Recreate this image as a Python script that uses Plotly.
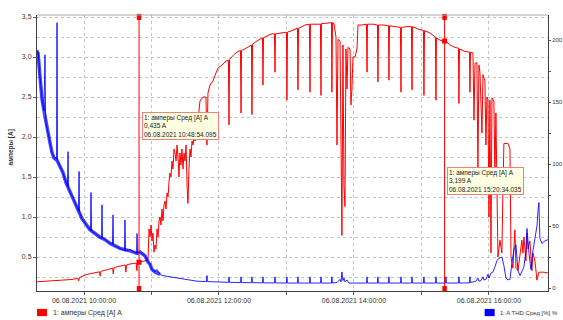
import pandas as pd
import plotly.graph_objects as go

# ---------------- data (time = minutes after 06.08.2021 09:00:00) ----------------
red_minutes = [
    18.2, 25, 30, 35, 40, 45, 50, 54.5, 55.2, 55.9, 60, 65, 70, 73.8, 74.4, 75, 80, 85.5, 86, 86.6,
    90, 95, 96.6, 97.2, 97.8, 100, 105, 106.4, 107, 107.6, 108.9, 112, 116.9,
    117.8, 118.7, 119.6, 120.4, 121.3, 122.2, 123.1, 124.0, 124.9, 125.8, 126.7, 127.6, 128.4, 129.3,
    130.2, 131.1, 132.0, 132.9, 133.8, 134.7, 135.6, 136.4, 137.3, 138.2, 139.1, 140.0, 140.9, 141.8,
    142.7, 143.6, 144.4, 145.3, 146.2, 147.1, 148.0, 148.9, 149.8, 150.7, 151.6, 152.4, 153.3, 154.2,
    155.1, 156.0, 156.9, 157.8, 158.7,
    159.6, 161.3, 163.1, 165.8, 168.4, 169.3, 170.2, 172.0, 174.7, 177.3, 179.1, 182.7, 186.2, 188.4,
    188.9, 189.4, 193.3, 196.9, 199.1, 199.6, 200.0, 204.0, 207.6, 208.9, 209.3, 209.8, 213.8, 217.3,
    218.7, 219.1, 219.6, 223.6, 227.1, 229.3, 229.8, 230.2, 234.2,
    238.7, 240.0, 240.4, 240.9, 244.9, 247.6, 249.8, 250.2, 250.7, 253.8, 256.4, 260.4, 260.9, 261.3,
    265.3, 270.2, 270.7, 271.1, 274.2, 280.0, 280.4, 280.9, 282.2,
    283.1, 284.0, 284.9, 285.8, 287.6, 288.5, 289.3, 290.2, 291.1, 292.0, 292.9, 293.8, 294.7, 296.5,
    297.3, 298.2, 299.1, 300.9, 302.7, 303.6,
    307.1, 311.1, 311.6, 312.0, 316.9, 320.9, 321.3, 321.8, 326.7, 330.7, 331.1, 331.6, 337.3, 341.3,
    341.8, 342.2, 347.1, 351.1, 351.6, 352.0, 356.9, 361.8, 362.2, 362.7, 367.6, 370.2, 372.4, 372.9,
    373.3, 376.5, 381.8, 385.3, 389.8, 392.9, 393.3, 393.8, 398.7, 402.7, 403.1, 403.6, 405.8,
    406.7, 407.6, 409.3, 410.2, 411.1, 412.0, 413.8, 414.7, 416.4, 417.3, 418.2, 419.1, 420.0, 420.9,
    421.8, 422.7, 424.4, 425.3, 426.2, 428.0, 429.8, 431.5, 432.4, 433.3, 436.9, 438.7, 439.6, 441.3,
    443.1, 444.0, 445.8, 447.6, 449.3, 450.2, 451.1, 452.9, 453.8, 454.7, 456.4, 458.2, 459.1, 460.9,
    462.7, 464.4, 468.9, 472.4,
]
red_amps = [
    0.19, 0.195, 0.20, 0.205, 0.21, 0.215, 0.22, 0.235, 0.20, 0.24, 0.27, 0.29, 0.30, 0.315, 0.26, 0.32, 0.34, 0.36, 0.29, 0.365,
    0.38, 0.39, 0.40, 0.31, 0.40, 0.41, 0.42, 0.425, 0.33, 0.43, 0.435, 0.445, 0.46,
    0.85, 0.75, 0.9, 0.7, 0.8, 0.56, 0.65, 0.6, 0.85, 0.75, 0.95, 1.0, 0.9, 1.1,
    0.95, 1.15, 1.2, 1.1, 1.3, 1.25, 1.45, 1.55, 1.5, 1.7, 1.6, 1.85, 1.8, 1.7,
    1.9, 1.75, 1.5, 1.8, 1.65, 1.85, 1.6, 1.8, 1.7, 1.9, 1.4, 1.17, 1.6, 1.85,
    1.75, 1.95, 1.9, 2.0, 1.95,
    2.0, 2.2, 2.45, 2.5, 2.5, 1.9, 2.55, 2.65, 2.7, 2.8, 2.86, 2.9, 2.95, 2.96,
    2.15, 2.97, 3.03, 3.07, 3.08, 2.3, 3.08, 3.11, 3.14, 3.15, 2.28, 3.16, 3.2, 3.23,
    3.24, 2.65, 3.24, 3.27, 3.29, 3.29, 2.81, 3.29, 3.3,
    3.31, 3.31, 2.46, 3.31, 3.33, 3.35, 3.36, 2.59, 3.36, 3.38, 3.40, 3.41, 2.56, 3.41,
    3.41, 3.41, 2.52, 3.42, 3.42, 3.43, 2.56, 3.43, 3.42,
    3.3, 3.25, 1.9, 3.22, 3.2, 2.2, 0.77, 3.15, 1.4, 1.13, 3.1, 2.6, 3.12, 3.1,
    2.4, 2.6, 3.0, 3.0, 3.1, 3.4,
    3.40, 3.41, 2.81, 3.41, 3.41, 3.40, 2.69, 3.40, 3.40, 3.39, 2.71, 3.39, 3.38, 3.37,
    2.56, 3.37, 3.38, 3.38, 2.59, 3.38, 3.35, 3.33, 2.52, 3.33, 3.30, 3.27, 3.25, 2.46,
    3.24, 3.21, 3.20, 3.15, 3.12, 3.11, 2.42, 3.10, 3.07, 3.06, 2.56, 3.06, 3.05,
    2.21, 2.92, 2.93, 1.6, 2.9, 2.81, 2.05, 2.78, 2.7, 1.9, 2.5, 2.46, 1.0, 2.46,
    0.55, 2.49, 2.45, 1.5, 2.3, 0.5, 0.71, 0.55, 1.3, 1.92, 1.92, 1.85, 0.5, 0.36,
    0.84, 0.36, 0.33, 0.5, 0.71, 0.55, 0.75, 0.45, 0.8, 0.6, 0.7, 0.33, 0.55, 0.45,
    0.21, 0.31, 0.31, 0.3,
]

blue_band_minutes = [
    18.2, 19.1, 20.9, 22.7, 24.4, 26.2, 28.0, 29.8, 31.6, 33.3, 36.0, 38.7, 41.3, 44.0, 47.6, 51.1,
    54.7, 58.2, 61.8, 65.3, 69.8, 74.2, 78.7, 83.1, 87.6, 92.0, 100.9, 107.1, 109.8, 114.2, 116.9,
    118.7, 120.4, 123.1, 127.6,
]
blue_band_thd = [
    188, 190, 170, 152, 143, 133, 125, 117, 109, 105, 103, 98, 93, 85, 77, 71,
    63, 56, 51, 47, 44, 41, 39, 36, 34, 32, 30, 28, 29, 26, 21,
    19, 15, 13, 11,
]

blue_minutes = [
    18.2, 19.1, 20.9, 22.7, 24.4, 25.3, 25.8, 26.2, 28.0, 29.8, 31.6, 33.3, 35.6, 36.0, 36.4, 38.7,
    41.3, 44.0, 45.3, 45.8, 46.2, 47.6, 51.1, 54.7, 55.1, 55.6, 56.0, 58.2, 61.8, 65.3, 65.8, 66.2,
    66.7, 69.8, 74.2, 75.6, 76.0, 76.4, 78.7, 83.1, 85.3, 85.8, 86.2, 87.6, 92.0, 96.0, 96.4, 96.9,
    100.9, 106.7, 107.1, 107.6, 109.8, 114.2, 116.9, 118.7, 120.4, 123.1, 124.9, 127.6, 130.2,
    136.4, 145.3, 154.2, 160.4, 168.9, 169.3, 169.7, 174.7,
    188.5, 188.9, 189.3, 199.2, 199.6, 200.0, 208.9, 209.3, 209.7, 218.7, 219.1, 219.5,
    229.4, 229.8, 230.2, 240.0, 240.4, 240.8, 249.8, 250.2, 250.6, 260.5, 260.9, 261.3,
    270.3, 270.7, 271.1, 280.0, 280.4, 280.8,
    285.0, 287.6, 288.5, 289.3, 290.2, 291.1, 292.0, 293.8, 295.6,
    311.2, 311.6, 312.0, 320.9, 321.3, 321.7, 330.7, 331.1, 331.5, 341.4, 341.8, 342.2,
    351.2, 351.6, 352.0, 361.8, 362.2, 362.6, 372.5, 372.9, 373.3, 381.4, 381.8, 382.2,
    392.9, 393.3, 393.7, 402.7, 403.1, 403.5,
    406.7, 408.4, 410.2, 411.1, 412.9, 414.7, 415.6, 417.3, 419.1, 420.0, 421.8, 423.6, 425.3,
    427.1, 428.9, 431.5, 433.3, 435.1, 436.9, 438.7, 440.4, 442.2, 444.0, 445.8, 447.6, 449.3,
    451.1, 452.9, 453.8, 455.6, 457.3, 459.1, 460.9, 462.7, 463.6, 464.4, 465.3, 467.1, 469.8, 472.4,
]
blue_thd = [
    188, 192, 170, 152, 143, 188, 140, 133, 125, 117, 109, 105, 104, 214, 103, 98,
    93, 85, 82, 110, 81, 77, 71, 63, 62, 94, 61, 56, 51, 47, 46, 77,
    46, 44, 41, 40, 67, 40, 39, 36, 35, 59, 35, 34, 32, 30, 55, 30,
    31, 28, 44, 28, 29, 26, 21, 19, 15, 13, 15, 11, 10,
    9, 7.5, 6, 5.5, 5.2, 10, 5.2, 5,
    4.6, 9, 4.6, 4.4, 9, 4.4, 4.3, 9, 4.3, 4.2, 9, 4.2,
    4.1, 9, 4.1, 4, 9, 4, 4, 9, 4, 4, 9, 4,
    4, 9, 4, 4, 9, 4,
    4.5, 7, 5, 13, 6, 8, 5, 6.5, 4,
    4, 9, 4, 4, 9, 4, 4, 9, 4, 4, 9, 4,
    4, 9, 4, 4, 9, 4, 4, 9, 4, 4, 9, 4,
    4, 9, 4, 4.2, 9, 4.5,
    5, 5.5, 8, 5.5, 6, 9, 6.5, 7, 11, 8, 12, 13, 17,
    22, 24, 25, 18, 8, 6.5, 7, 20, 31, 35, 14, 10, 14,
    17, 30, 48, 28, 15, 30, 40, 50, 62, 69, 40, 36, 38, 39,
]

cursor_times = ["2021-08-06 10:48:54.095", "2021-08-06 15:20:34.035"]
cursor_values = [0.435, 3.199]
cursor_series = "1: амперы Сред [A] A"

x_tick_hours = [10, 11, 12, 13, 14, 15, 16]
x_tick_labels = ["06.08.2021 10:00:00", "", "06.08.2021 12:00:00", "",
                 "06.08.2021 14:00:00", "", "06.08.2021 16:00:00"]
y_left_ticks = [0.5, 1.0, 1.5, 2.0, 2.5, 3.0, 3.5]
y_left_labels = ["0,5", "1,0", "1,5", "2,0", "2,5", "3,0", "3,5"]
y_right_ticks = [0, 50, 100, 150, 200]

legend_red = "1: амперы Сред [A] A"
legend_blue = "1: A THD Сред [%] %"
y_title = "амперы [A]"

# ---------------- figure ----------------
BASE = pd.Timestamp("2021-08-06 09:00:00")


def to_dt(mins):
    return BASE + pd.to_timedelta(mins, unit="m")


FONT = "Liberation Sans, Arial, sans-serif"
RED = "#ff0000"
BLUE = "#0000ff"

fig = go.Figure()
fig.add_trace(go.Scatter(x=to_dt(red_minutes), y=red_amps, mode="lines",
                         line=dict(color=RED, width=1), yaxis="y", name=legend_red,
                         showlegend=False))
fig.add_trace(go.Scatter(x=to_dt(blue_band_minutes), y=blue_band_thd, mode="lines",
                         line=dict(color="rgba(0,0,255,0.72)", width=3.5), yaxis="y2",
                         showlegend=False, hoverinfo="skip"))
fig.add_trace(go.Scatter(x=to_dt(blue_minutes), y=blue_thd, mode="lines",
                         line=dict(color="rgba(0,0,255,0.85)", width=1), yaxis="y2",
                         name=legend_blue, showlegend=False))
cursor_dt = pd.to_datetime(cursor_times)
fig.add_trace(go.Scatter(x=cursor_dt, y=cursor_values, mode="markers",
                         marker=dict(color=RED, size=5, symbol="square"), yaxis="y",
                         showlegend=False))

shapes = []
annotations = []
for t, v in zip(cursor_dt, cursor_values):
    shapes.append(dict(type="line", xref="x", yref="paper", x0=t, x1=t, y0=0, y1=1,
                       line=dict(color=RED, width=1)))
    half = pd.Timedelta(minutes=2.0)
    shapes.append(dict(type="rect", xref="x", yref="paper", x0=t - half, x1=t + half,
                       y0=0.982, y1=1.004, fillcolor=RED, line=dict(width=0)))
    shapes.append(dict(type="rect", xref="x", yref="paper", x0=t - half, x1=t + half,
                       y0=0.0, y1=0.018, fillcolor=RED, line=dict(width=0)))

box_tops = [0.648, 0.449]
for t, v, ytop in zip(cursor_dt, cursor_values, box_tops):
    txt = (cursor_series + "<br>" + f"{v:.3f}".replace(".", ",") + " A<br>"
           + t.strftime("%d.%m.%Y %H:%M:%S.") + f"{t.microsecond // 1000:03d}")
    annotations.append(dict(x=t + pd.Timedelta(minutes=2.4), y=ytop, xref="x", yref="paper",
                            xanchor="left", yanchor="top", showarrow=False, align="left",
                            text=txt, font=dict(family=FONT, size=6.5, color="#222"),
                            bgcolor="#ffffe1", bordercolor="#f08080", borderwidth=1,
                            borderpad=1))

# top frame line
shapes.append(dict(type="line", xref="paper", yref="paper", x0=0, x1=1, y0=1, y1=1,
                   line=dict(color="#a8a8a8", width=1)))
# manual legend
shapes.append(dict(type="rect", xref="paper", yref="paper", x0=0.0, x1=0.0196,
                   y0=-0.091, y1=-0.065, fillcolor=RED, line=dict(width=0)))
shapes.append(dict(type="rect", xref="paper", yref="paper", x0=0.876, x1=0.8956,
                   y0=-0.091, y1=-0.065, fillcolor=BLUE, line=dict(width=0)))
annotations.append(dict(x=0.0274, y=-0.078, xref="paper", yref="paper", xanchor="left",
                        yanchor="middle", showarrow=False, text=legend_red,
                        font=dict(family=FONT, size=7, color="#333")))
annotations.append(dict(x=0.9015, y=-0.078, xref="paper", yref="paper", xanchor="left",
                        yanchor="middle", showarrow=False, text=legend_blue,
                        font=dict(family=FONT, size=6, color="#333")))
annotations.append(dict(x=-0.049, y=0.52, xref="paper", yref="paper", xanchor="center",
                        yanchor="middle", showarrow=False, text="<b>" + y_title + "</b>",
                        textangle=-90, font=dict(family=FONT, size=6.5, color="#333")))

GRID = "#c4c4c4"
fig.update_layout(
    width=563, height=320,
    margin=dict(l=37, r=15, t=15, b=29, pad=0, autoexpand=False),
    paper_bgcolor="white", plot_bgcolor="white",
    font=dict(family=FONT, size=7, color="#333"),
    showlegend=False,
    shapes=shapes,
    annotations=annotations,
    xaxis=dict(
        type="date", automargin=False,
        range=[to_dt(18.2), to_dt(472.5)],
        tickvals=[BASE + pd.Timedelta(hours=h - 9) for h in x_tick_hours],
        ticktext=x_tick_labels,
        showgrid=True, gridcolor=GRID, griddash="dot", gridwidth=1,
        ticks="outside", ticklen=3, tickcolor="#555",
        showline=True, linecolor="#404040", linewidth=1,
        zeroline=False, tickfont=dict(size=7, color="#333"),
    ),
    yaxis=dict(
        automargin=False,
        range=[0.075, 3.525],
        tickvals=y_left_ticks, ticktext=y_left_labels,
        showgrid=True, gridcolor=GRID, griddash="dot", gridwidth=1,
        minor=dict(dtick=0.25, tick0=0, showgrid=True, gridcolor=GRID, griddash="dot",
                   ticks=""),
        ticks="outside", ticklen=3, tickcolor="#555",
        showline=True, linecolor="#404040", linewidth=1,
        zeroline=False, tickfont=dict(size=7, color="#333"),
    ),
    yaxis2=dict(
        overlaying="y", side="right", anchor="x", automargin=False,
        range=[-2.4, 220.2],
        tickvals=y_right_ticks,
        showgrid=False, zeroline=False,
        minor=dict(dtick=25, tick0=0, ticks="outside", ticklen=2, tickcolor="#555"),
        ticks="outside", ticklen=2, tickcolor="#555",
        showline=True, linecolor="#404040", linewidth=1,
        tickfont=dict(size=6, color="#333"),
    ),
)

fig.write_html("out.html", config={"displayModeBar": False},
               post_script="document.body.style.margin='0px';document.body.style.padding='0px';")
